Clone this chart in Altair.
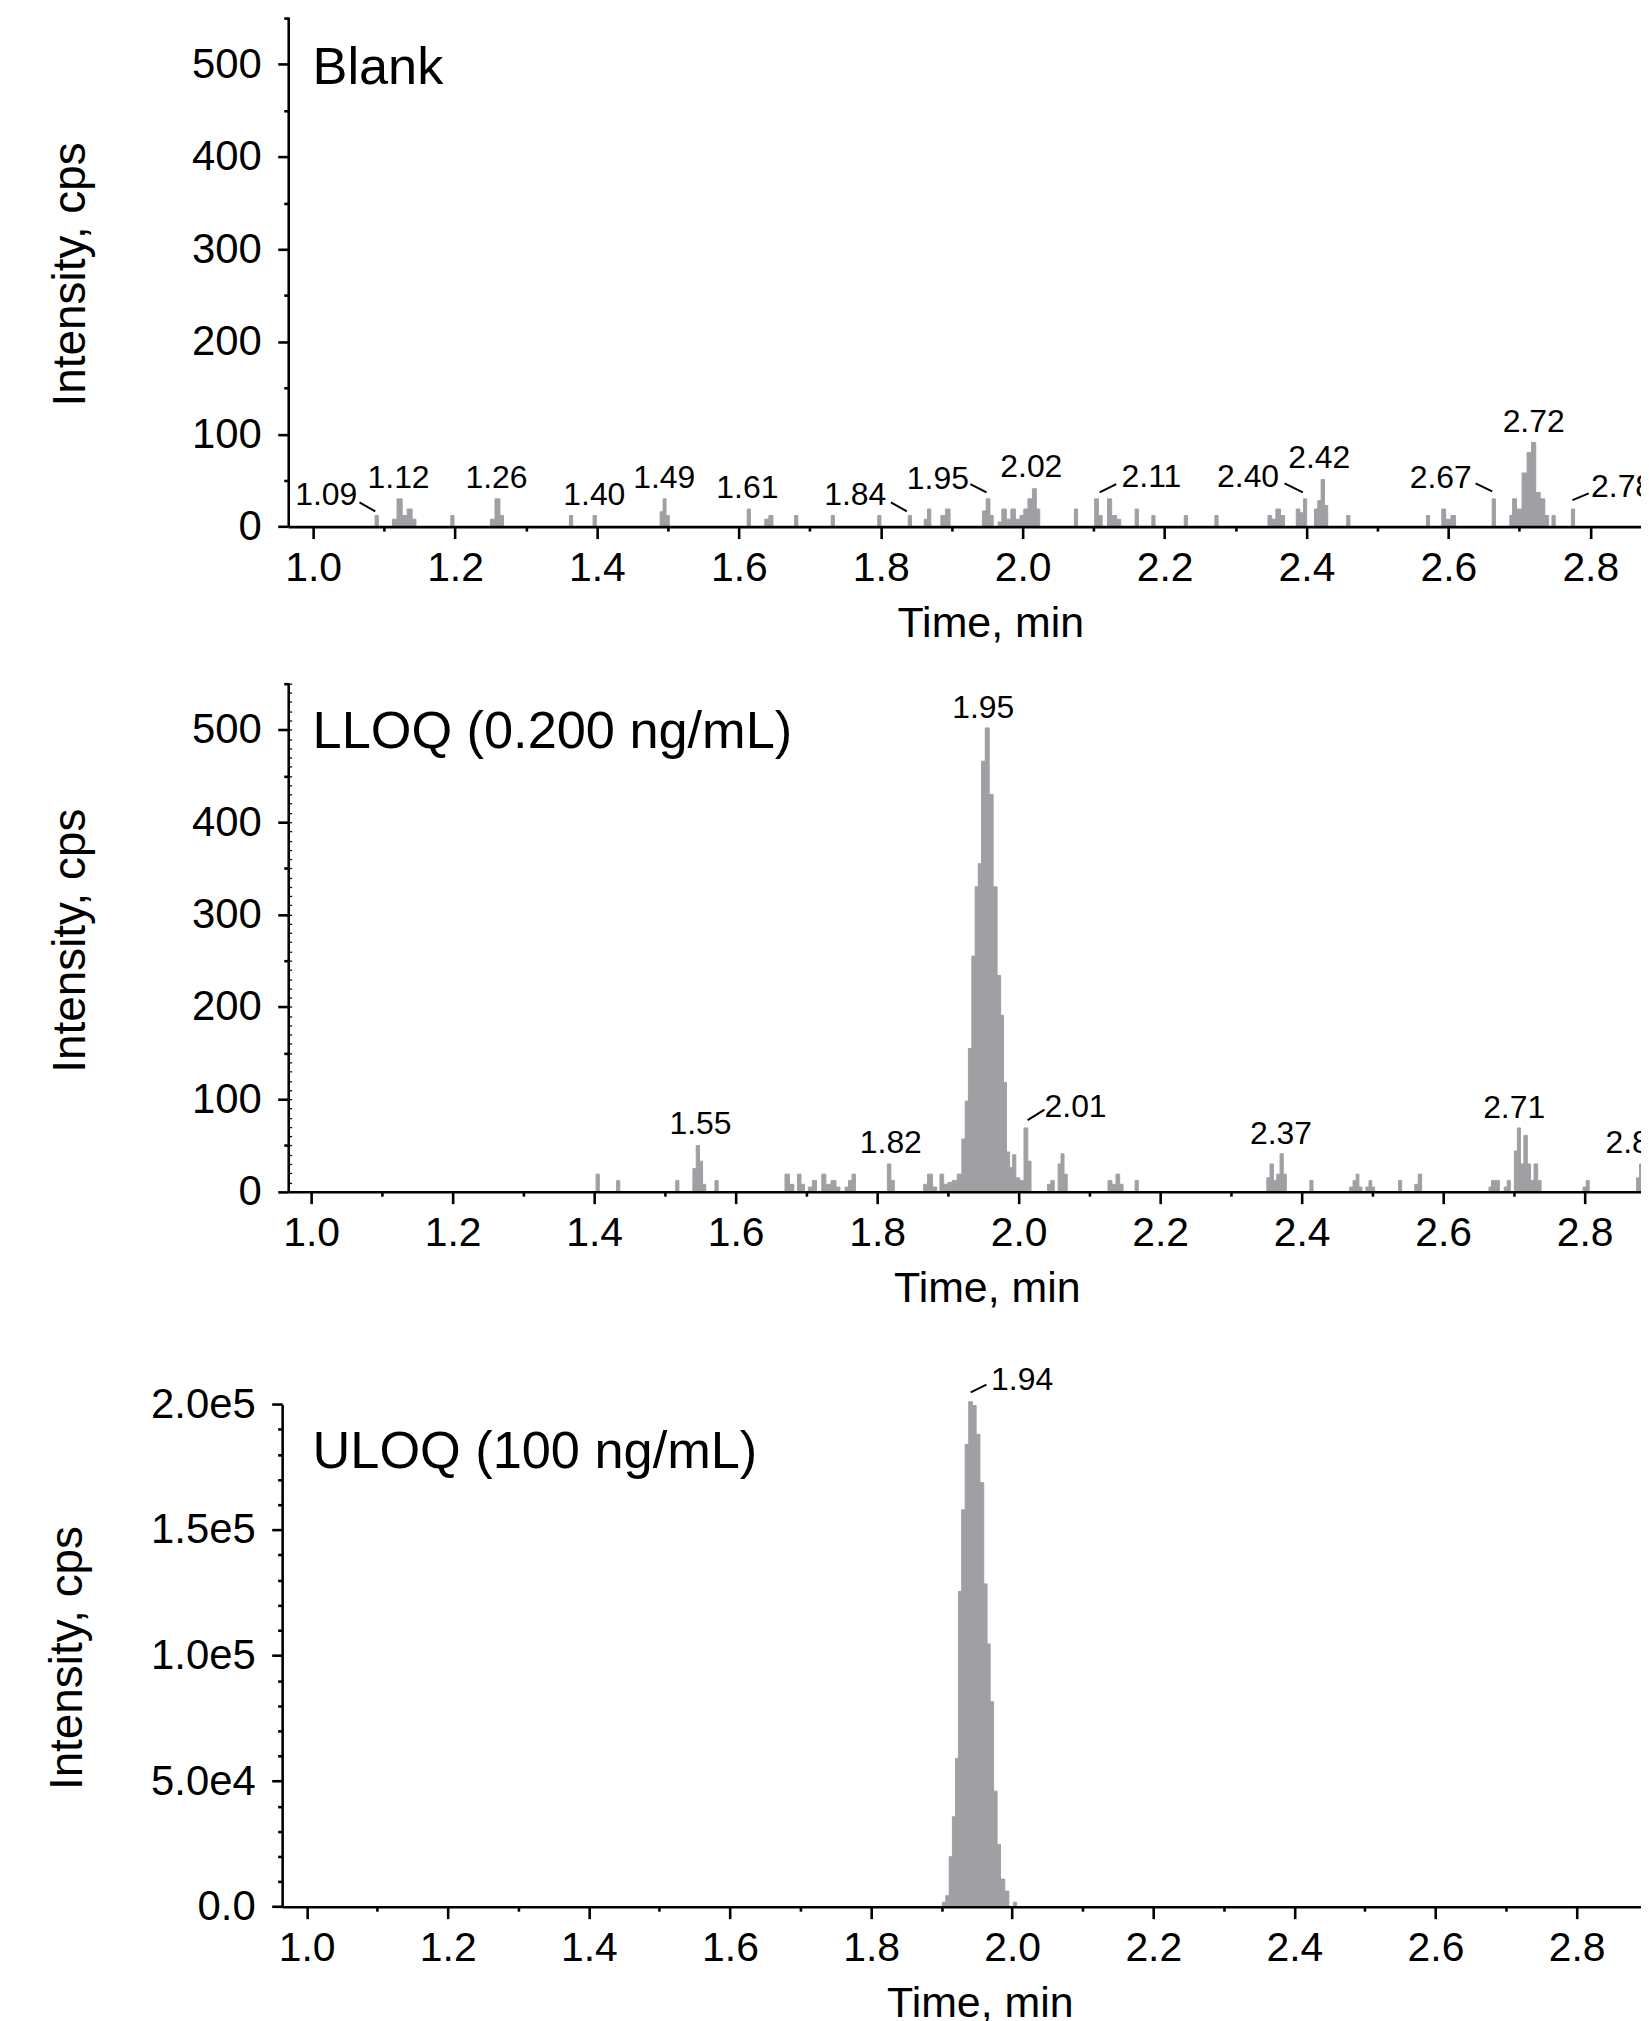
import altair as alt
import pandas as pd

FONT = "Liberation Sans"
GRAY = "#a0a0a4"
AXW = 2.6

# ---------------- axis tick values ----------------
X_MAJOR = [1.0, 1.2, 1.4, 1.6, 1.8, 2.0, 2.2, 2.4, 2.6, 2.8]
X_MINOR = [1.1, 1.3, 1.5, 1.7, 1.9, 2.1, 2.3, 2.5, 2.7]
Y12_MAJOR = [0, 100, 200, 300, 400, 500]
Y12_MINOR = [50, 150, 250, 350, 450, 550]
Y2_DOTS = [0, 10, 20, 30, 40, 50, 60, 70, 80, 90, 100, 110, 120, 130, 140, 150, 160, 170, 180, 190,
           200, 210, 220, 230, 240, 250, 260, 270, 280, 290, 300, 310, 320, 330, 340, 350, 360, 370,
           380, 390, 400, 410, 420, 430, 440, 450, 460, 470, 480, 490, 500, 510, 520, 530, 540, 550]
Y3_MAJOR = [0, 50000, 100000, 150000, 200000]
Y3_LABELS = ["0.0", "5.0e4", "1.0e5", "1.5e5", "2.0e5"]
Y3_MINOR = [10000, 20000, 30000, 40000, 60000, 70000, 80000, 90000, 110000, 120000,
            130000, 140000, 160000, 170000, 180000, 190000]

# ---------------- Blank trace (time, min / intensity, cps) ----------------
BLANK_T = [1.0896, 1.114, 1.1225, 1.1285, 1.1365, 1.1426, 1.1963, 1.2521, 1.2605, 1.2661,
           1.3635, 1.3968, 1.4913, 1.4951, 1.4997, 1.614, 1.6388, 1.6458, 1.6809, 1.7324,
           1.798, 1.841, 1.8635, 1.8683, 1.887, 1.8954, 1.9455, 1.9516, 1.9562, 1.9677,
           1.9736, 1.9806, 1.9862, 1.9934, 1.9993, 2.0039, 2.011, 2.0166, 2.0218, 2.0751,
           2.1037, 2.1098, 2.1219, 2.1289, 2.136, 2.1608, 2.1843, 2.230, 2.2732, 2.348,
           2.354, 2.3598, 2.3668, 2.3879, 2.3935, 2.398, 2.4136, 2.4183, 2.423, 2.4277,
           2.459, 2.5713, 2.593, 2.5994, 2.6079, 2.664, 2.6889, 2.6921, 2.7001, 2.7076,
           2.7142, 2.7203, 2.7259, 2.7329, 2.739, 2.7483, 2.7756]
BLANK_I = [12, 8, 30, 12, 19, 8, 12, 8, 30, 12,
           12, 12, 16, 30, 12, 19, 8, 12, 12, 12,
           12, 12, 8, 19, 12, 19, 17, 30, 12, 5,
           19, 8, 19, 8, 12, 19, 30, 41, 19, 19,
           30, 12, 30, 12, 8, 19, 12, 12, 12, 12,
           8, 19, 12, 19, 15, 30, 19, 28, 51, 23,
           12, 12, 19, 8, 12, 30, 12, 30, 19, 58,
           80, 91, 37, 30, 12, 12, 19]
BLANK_LAB_TXT = ["1.09", "1.12", "1.26", "1.40", "1.49", "1.61", "1.84", "1.95", "2.02",
                 "2.11", "2.40", "2.42", "2.67", "2.72"]
BLANK_LAB_T = [1.0185, 1.1204, 1.2584, 1.3963, 1.4948, 1.612, 1.764, 1.8805, 2.0122,
               2.1815, 2.3177, 2.418, 2.5892, 2.7202]
BLANK_LAB_V = [23.4, 41.7, 41.7, 23.5, 41.7, 30.9, 23.4, 40.7, 53.9,
               42.4, 42.4, 63.4, 41.7, 102.4]
BLANK_EDGE_TXT = ["2.78"]
BLANK_EDGE_T = [2.8448]
BLANK_EDGE_V = [31.6]
BLANK_LEAD_T1 = [1.0653, 1.8143, 1.9263, 2.1085, 2.3691, 2.6383, 2.7749]
BLANK_LEAD_V1 = [26.2, 26.2, 46.0, 37.0, 46.7, 46.7, 28.7]
BLANK_LEAD_T2 = [1.0875, 1.8368, 1.9490, 2.1318, 2.3949, 2.6618, 2.7978]
BLANK_LEAD_V2 = [16.5, 16.5, 37.0, 46.0, 37.0, 38.0, 35.9]

# ---------------- LLOQ trace ----------------
LLOQ_T = [1.405, 1.434, 1.5175, 1.5418, 1.5468, 1.551, 1.5555, 1.573, 1.672, 1.680,
          1.6896, 1.695, 1.705, 1.712, 1.724, 1.731, 1.7387, 1.745, 1.757, 1.762,
          1.767, 1.8167, 1.822, 1.868, 1.8744, 1.882, 1.891, 1.897, 1.903, 1.9094,
          1.917, 1.9224, 1.9265, 1.9314, 1.9362, 1.9407, 1.9451, 1.95, 1.9556, 1.9611,
          1.9667, 1.9723, 1.9768, 1.9805, 1.985, 1.9895, 1.9934, 1.9985, 2.0045, 2.0106,
          2.0152, 2.043, 2.048, 2.058, 2.0618, 2.0663, 2.1285, 2.135, 2.1402, 2.1453,
          2.1668, 2.353, 2.3575, 2.3625, 2.367, 2.3719, 2.376, 2.4138, 2.470, 2.4752,
          2.4788, 2.4829, 2.493, 2.4972, 2.5008, 2.5391, 2.5621, 2.5673, 2.667, 2.6696,
          2.6772, 2.6885, 2.6926, 2.7028, 2.7069, 2.7115, 2.7166, 2.7212, 2.7258, 2.731,
          2.7361, 2.80, 2.8041, 2.8757, 2.8793, 2.8839]
LLOQ_I = [19, 12, 12, 25, 50, 33, 8, 12, 19, 8,
          19, 8, 5, 12, 19, 8, 12, 5, 5, 12,
          19, 30, 12, 8, 19, 5, 19, 8, 10, 12,
          19, 57, 98, 155, 255, 330, 355, 466, 502, 430,
          330, 234, 191, 118, 43, 26, 40, 15, 12, 69,
          33, 8, 12, 30, 41, 19, 12, 8, 19, 8,
          12, 15, 30, 12, 19, 41, 19, 12, 5, 12,
          19, 5, 5, 12, 5, 12, 8, 19, 5, 12,
          12, 5, 12, 44, 69, 30, 61, 30, 12, 30,
          12, 5, 12, 15, 30, 15]
LLOQ_LAB_TXT = ["1.55", "1.82", "1.95", "2.01", "2.37", "2.71"]
LLOQ_LAB_T = [1.5502, 1.8193, 1.950, 2.0804, 2.3707, 2.7003]
LLOQ_LAB_V = [62.3, 41.8, 512.5, 80.7, 51.5, 80.3]
LLOQ_EDGE_TXT = ["2.88"]
LLOQ_EDGE_T = [2.8732]
LLOQ_EDGE_V = [41.8]
LLOQ_LEAD_T1 = [2.0127]
LLOQ_LEAD_V1 = [77.5]
LLOQ_LEAD_T2 = [2.0365]
LLOQ_LEAD_V2 = [88.9]

# ---------------- ULOQ trace ----------------
ULOQ_T = [1.9032, 1.9085, 1.913, 1.9175, 1.9216, 1.926, 1.9309, 1.9358, 1.941, 1.9463,
          1.9515, 1.9571, 1.9623, 1.9665, 1.971, 1.9762, 1.981, 1.9859, 1.993, 2.004]
ULOQ_I = [1800, 4400, 19900, 35800, 59000, 125500, 158000, 184000, 201000, 199500,
          188000, 168800, 128500, 104600, 81600, 46000, 24800, 11000, 6200, 1800]
ULOQ_LAB_TXT = ["1.94"]
ULOQ_LAB_T = [2.0141]
ULOQ_LAB_V = [205750]
ULOQ_LEAD_T1 = [1.9412]
ULOQ_LEAD_V1 = [204760]
ULOQ_LEAD_T2 = [1.9635]
ULOQ_LEAD_V2 = [207850]

PANEL_NAMES = ["Blank", "LLOQ (0.200 ng/mL)", "ULOQ (100 ng/mL)"]
PANEL_NAME_T = [0.99916, 1.0020, 1.00833]
PANEL_NAME_V = [478.4, 480.4, 174534]


def trace(ts, vs, half=0.0045):
    rows = []
    n = len(ts)
    for i in range(n):
        if i == 0 or ts[i] - ts[i - 1] > 2 * half:
            rows.append({"t": ts[i] - half, "v": 0})
        rows.append({"t": ts[i], "v": vs[i]})
        if i == n - 1 or ts[i + 1] - ts[i] > 2 * half:
            rows.append({"t": ts[i] + half, "v": 0})
    return pd.DataFrame(rows)


def labels_df(txt, ts, vs):
    return pd.DataFrame({"txt": txt, "t": ts, "v": vs})


def leaders_df(t1, v1, t2, v2):
    return pd.DataFrame({"t1": t1, "v1": v1, "t2": t2, "v2": v2})


def panel(df, labs, edge, leads, name_df, xdom, xrng, ydom, yrng, W, H,
          ymaj, ymin, ylabexpr, yoff, ytitleX, ytitleY, xtitleX, dots=None):
    xs_kw = dict(domain=xdom, nice=False, zero=False)
    if xrng is not None:
        xs_kw["range"] = xrng
    ys_kw = dict(domain=ydom, nice=False, zero=False)
    if yrng is not None:
        ys_kw["range"] = yrng
    xs = alt.Scale(**xs_kw)
    ys = alt.Scale(**ys_kw)

    xmaj_ax = alt.Axis(orient="bottom", values=X_MAJOR, format=".1f", tickSize=12,
                       tickWidth=AXW, domainWidth=AXW, labelFontSize=41,
                       labelBaseline="alphabetic", labelPadding=42, labelOverlap=False,
                       labelFlush=False, title="Time, min", titleFontSize=43,
                       titleFontWeight="normal", titleX=xtitleX, titleY=110,
                       titleBaseline="alphabetic", titleAlign="center", zindex=1)
    xmin_ax = alt.Axis(orient="bottom", values=X_MINOR, tickSize=4.5, tickWidth=AXW,
                       labels=False, domain=False, title=None, zindex=1)
    ymaj_kw = dict(orient="left", values=ymaj, tickSize=10.5, tickWidth=AXW,
                   domainWidth=AXW, labelFontSize=42, labelPadding=16.5,
                   labelBaseline="middle", labelOverlap=False, labelFlush=False,
                   title="Intensity, cps", titleFontSize=46, titleFontWeight="normal",
                   titleAngle=270, titleX=ytitleX, titleY=ytitleY,
                   titleBaseline="alphabetic", titleAlign="center", offset=yoff, zindex=1)
    if ylabexpr is not None:
        ymaj_kw["labelExpr"] = ylabexpr
    else:
        ymaj_kw["format"] = "d"
    ymaj_ax = alt.Axis(**ymaj_kw)
    ymin_ax = alt.Axis(orient="left", values=ymin, tickSize=4.5, tickWidth=AXW,
                       labels=False, domain=False, title=None, offset=yoff, zindex=1)

    area = alt.Chart(df).mark_area(fill=GRAY, stroke=GRAY, strokeWidth=1,
                                   interpolate="step", clip=True).encode(
        x=alt.X("t:Q", scale=xs, axis=xmaj_ax),
        y=alt.Y("v:Q", scale=ys, axis=ymaj_ax))
    minor = alt.Chart(df).mark_point(opacity=0, clip=True).encode(
        x=alt.X("t:Q", scale=xs, axis=xmin_ax),
        y=alt.Y("v:Q", scale=ys, axis=ymin_ax))
    layers = [area, minor]
    if dots is not None:
        dots_ax = alt.Axis(orient="left", values=dots, tickSize=2, tickWidth=1.3,
                           labels=False, domain=False, title=None, offset=-3.4, zindex=1)
        layers.append(alt.Chart(df).mark_point(opacity=0, clip=True).encode(
            x=alt.X("t:Q", scale=xs, axis=None),
            y=alt.Y("v:Q", scale=ys, axis=dots_ax)))
    txt = alt.Chart(labs).mark_text(font=FONT, fontSize=32, align="center",
                                    baseline="alphabetic", color="black").encode(
        x=alt.X("t:Q", scale=xs, axis=None),
        y=alt.Y("v:Q", scale=ys, axis=None),
        text="txt:N")
    layers.append(txt)
    if edge is not None:
        layers.append(alt.Chart(edge).mark_text(font=FONT, fontSize=32, align="center",
                                                baseline="alphabetic", color="black",
                                                clip=True).encode(
            x=alt.X("t:Q", scale=xs, axis=None),
            y=alt.Y("v:Q", scale=ys, axis=None),
            text="txt:N"))
    layers.append(alt.Chart(leads).mark_rule(color="black", strokeWidth=2).encode(
        x=alt.X("t1:Q", scale=xs, axis=None), x2="t2:Q",
        y=alt.Y("v1:Q", scale=ys, axis=None), y2="v2:Q"))
    layers.append(alt.Chart(name_df).mark_text(font=FONT, fontSize=52.5, align="left",
                                               baseline="alphabetic", color="black").encode(
        x=alt.X("t:Q", scale=xs, axis=None),
        y=alt.Y("v:Q", scale=ys, axis=None),
        text="txt:N"))
    return alt.layer(*layers).properties(width=W, height=H).resolve_axis(
        x="independent", y="independent")


W = 1360.5
H1, H2, H3 = 511.3, 510.8, 561.4

expr3 = " : ".join(
    [f"datum.value == {v} ? '{l}'" for v, l in zip(Y3_MAJOR, Y3_LABELS)]) + " : ''"

p1 = panel(trace(BLANK_T, BLANK_I),
           labels_df(BLANK_LAB_TXT, BLANK_LAB_T, BLANK_LAB_V),
           labels_df(BLANK_EDGE_TXT, BLANK_EDGE_T, BLANK_EDGE_V),
           leaders_df(BLANK_LEAD_T1, BLANK_LEAD_V1, BLANK_LEAD_T2, BLANK_LEAD_V2),
           labels_df([PANEL_NAMES[0]], [PANEL_NAME_T[0]], [PANEL_NAME_V[0]]),
           [0.96489, 2.87570], None, [0, 551], None, W, H1,
           Y12_MAJOR, Y12_MINOR, None, 0, -204.5, H1 / 2 + 2, 704.5)

p2 = panel(trace(LLOQ_T, LLOQ_I),
           labels_df(LLOQ_LAB_TXT, LLOQ_LAB_T, LLOQ_LAB_V),
           labels_df(LLOQ_EDGE_TXT, LLOQ_EDGE_T, LLOQ_EDGE_V),
           leaders_df(LLOQ_LEAD_T1, LLOQ_LEAD_V1, LLOQ_LEAD_T2, LLOQ_LEAD_V2),
           labels_df([PANEL_NAMES[1]], [PANEL_NAME_T[1]], [PANEL_NAME_V[1]]),
           [0.96761, 2.88380], None, [0, 551], None, W, H2,
           Y12_MAJOR, Y12_MINOR, None, 0, -204.5, H2 / 2 + 3, 701, dots=Y2_DOTS)

p3 = panel(trace(ULOQ_T, ULOQ_I),
           labels_df(ULOQ_LAB_TXT, ULOQ_LAB_T, ULOQ_LAB_V),
           None,
           leaders_df(ULOQ_LEAD_T1, ULOQ_LEAD_V1, ULOQ_LEAD_T2, ULOQ_LEAD_V2),
           labels_df([PANEL_NAMES[2]], [PANEL_NAME_T[2]], [PANEL_NAME_V[2]]),
           [0.96525, 2.8955], [-6.1, W], [0, 200000], [H3, H3 - 504.2], W, H3,
           Y3_MAJOR, Y3_MINOR, expr3, 6.1, -201.4, 311.4, 694)

chart = alt.vconcat(p1, p2, p3, spacing=155.9, bounds="flush").properties(
    padding={"left": 36.2, "top": 4.6, "right": -10, "bottom": 0},
    background="white",
).configure_view(stroke=None).configure_axis(
    grid=False, labelFont=FONT, titleFont=FONT, labelColor="black", titleColor="black",
    tickColor="black", domainColor="black")

chart.save("out.html", embed_options={"renderer": "svg", "actions": False})
